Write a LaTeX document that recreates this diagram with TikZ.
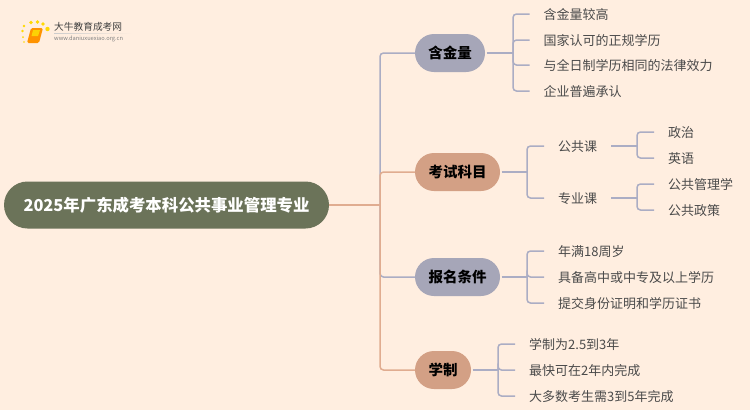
\documentclass[tikz,border=0pt]{standalone}
\usepackage{fontspec}
\setmainfont{Noto Sans CJK SC}
\definecolor{bgc}{HTML}{FFEEE0}
\definecolor{rootc}{HTML}{6B7359}
\definecolor{purc}{HTML}{A6A6B8}
\definecolor{oric}{HTML}{D3A085}
\definecolor{linep}{HTML}{ABADC4}
\definecolor{lineo}{HTML}{E0AC90}
\definecolor{txtc}{HTML}{4A4A4A}
\tikzset{
  x=1pt,y=-1pt,
  rootbox/.style={fill=rootc,text=white,rounded corners=23.5,minimum width=325,minimum height=47,inner sep=0,font=\fontsize{16.4}{18}\selectfont\bfseries},
  branchbox/.style={rounded corners=19,minimum height=38,inner sep=0,text=black,font=\fontsize{14.5}{16}\selectfont\bfseries},
  leaf/.style={anchor=west,inner sep=0,inner xsep=14,text height=12,text depth=1,text=txtc,font=\fontsize{13}{15}\selectfont},
  linkp/.style={draw=linep,line width=1.5,rounded corners=3.5},
  linko/.style={draw=lineo,line width=1.5,rounded corners=3.5},
  gapped/.style={shorten <=1.5},
  logotext/.style={inner sep=0,anchor=west},
}
\begin{document}
\begin{tikzpicture}
\path[use as bounding box,fill=bgc] (0,0) rectangle (750,410);

% logo
\fill[orange!30!yellow] (24,26) circle (1.3) (22.5,31) circle (1.3) (31,22.5) circle (1.8) (37.5,22) circle (1.8) (43,24) circle (1.8) (47.5,29) circle (2.2) (23,37) circle (1) (24,42) circle (.8);
\fill[orange!85!yellow,rounded corners=1.5] (31,28) -- (43,28) -- (39,43) -- (27,43) -- cycle;
\fill[yellow!70!orange] (33,30) -- (40,30) -- (38,36) -- (31.5,36) -- cycle;
\node[logotext,text=black!75,font=\fontsize{9.7}{11}\selectfont] (logoname) at (54,27) {大牛教育成考网};
\node[logotext,text=black!50,font=\fontsize{5.7}{7}\selectfont] (logourl) at (54,39) {www.daniuxuexiao.org.cn};
\shade[left color=black!20,right color=bgc] (54,33) rectangle (132,33.7);

% root
\node[rootbox] (root) at (166.5,205) {2025年广东成考本科公共事业管理专业};

% branches
\node[branchbox,fill=purc,minimum width=70] (b1) at (450,53) {含金量};
\node[branchbox,fill=oric,minimum width=85] (b2) at (457.5,172) {考试科目};
\node[branchbox,fill=purc,minimum width=85] (b3) at (457.5,277) {报名条件};
\node[branchbox,fill=oric,minimum width=56] (b4) at (443,370) {学制};

% leaves of branch 1
\node[leaf] (a1) at (529.5,14) {含金量较高};
\node[leaf] (a2) at (529.5,40) {国家认可的正规学历};
\node[leaf] (a3) at (529.5,65) {与全日制学历相同的法律效力};
\node[leaf] (a4) at (529.5,91) {企业普遍承认};
% branch 2
\node[leaf] (c1) at (544,146) {公共课};
\node[leaf] (c2) at (544,198) {专业课};
\node[leaf] (d1) at (654,132) {政治};
\node[leaf] (d2) at (654,158) {英语};
\node[leaf] (d3) at (654,184) {公共管理学};
\node[leaf] (d4) at (654,210) {公共政策};
% branch 3
\node[leaf] (e1) at (544,251) {年满18周岁};
\node[leaf] (e2) at (544,277) {具备高中或中专及以上学历};
\node[leaf] (e3) at (544,303) {提交身份证明和学历证书};
% branch 4
\node[leaf] (f1) at (515,344) {学制为2.5到3年};
\node[leaf] (f2) at (515,370) {最快可在2年内完成};
\node[leaf] (f3) at (515,396) {大多数考生需3到5年完成};

% junctions
\coordinate (trunk) at (380,205);
\coordinate (j1) at (513,53);
\coordinate (j2) at (527,172);
\coordinate (j3) at (527,277);
\coordinate (j4) at (498,370);
\coordinate (k1) at (637,146);
\coordinate (k2) at (637,198);

% trunk connectors
\draw[linkp] (trunk) |- (b1.west);
\draw[linkp] (trunk) |- (b3.west);
\draw[linko] (root.east) -- (trunk);
\draw[linko] (trunk) |- (b2.west);
\draw[linko] (trunk) |- (b4.west);

% branch 1
\draw[linkp,gapped] (b1.east) -- (j1);
\foreach \t in {a1,a2,a3,a4} \draw[linkp] (j1) |- (\t.west);
% branch 2
\draw[linkp,gapped] (b2.east) -- (j2);
\foreach \t in {c1,c2} \draw[linkp] (j2) |- (\t.west);
\draw[linkp] (c1.east) -- (k1);
\draw[linkp] (c2.east) -- (k2);
\foreach \t in {d1,d2} \draw[linkp] (k1) |- (\t.west);
\foreach \t in {d3,d4} \draw[linkp] (k2) |- (\t.west);
% branch 3
\draw[linkp,gapped] (b3.east) -- (j3);
\foreach \t in {e1,e2,e3} \draw[linkp] (j3) |- (\t.west);
% branch 4
\draw[linkp,gapped] (b4.east) -- (j4);
\foreach \t in {f1,f2,f3} \draw[linkp] (j4) |- (\t.west);
\end{tikzpicture}
\end{document}
